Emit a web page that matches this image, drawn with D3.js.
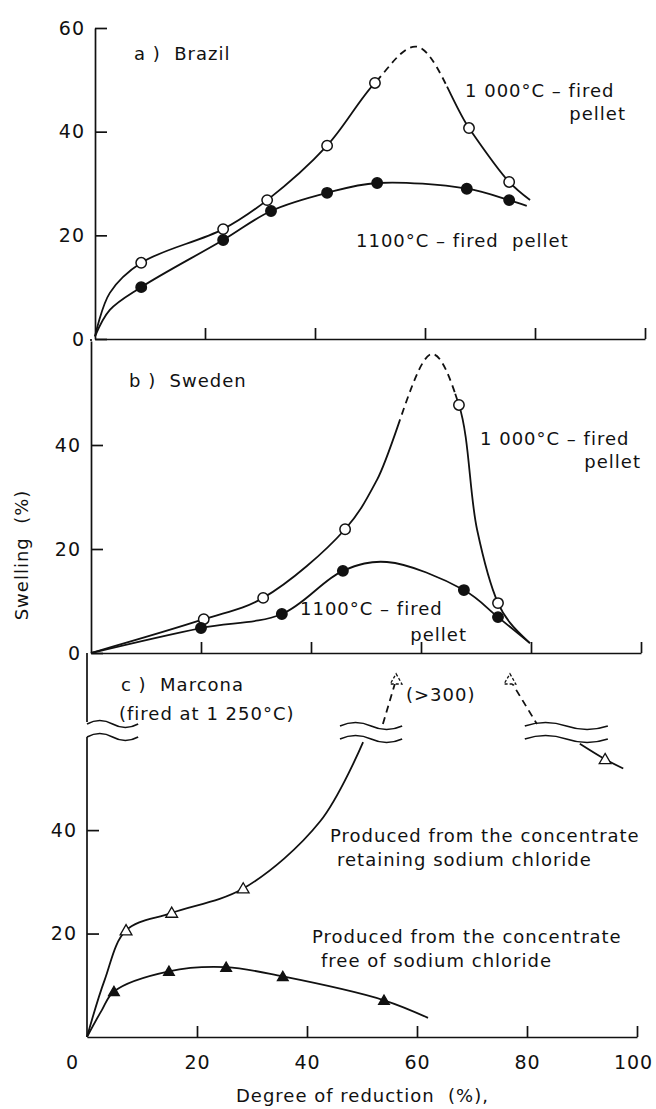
<!DOCTYPE html>
<html>
<head>
<meta charset="utf-8">
<script src="https://cdn.jsdelivr.net/npm/d3@7"></script>
<style>
  body { margin: 0; background: #fff; }
  text { font-family: "DejaVu Sans", sans-serif; fill: #111; white-space: pre; }
  .axis path, .axis line { stroke: #111; stroke-width: 1.7; }
  .axis text { font-size: 19px; letter-spacing: 1px; }
  .note { font-size: 18px; letter-spacing: 1px; }
</style>
</head>
<body>
<svg id="chart" width="656" height="1109"></svg>
<script>
// tick values
var xTicks = [0, 20, 40, 60, 80, 100];
var yTicksA = [0, 20, 40, 60];
var yTicksB = [0, 20, 40];
var yTicksC = [20, 40];

// a) Brazil  -- [degree of reduction %, swelling %]
var brazil1000 = [[8.4, 14.7], [23.3, 21.2], [31.3, 26.8], [42.2, 37.3], [50.9, 49.4], [68, 40.7], [75.3, 30.3]];
var brazil1000Line = [[0, 0.5], [2.7, 8.9], [58.5, 56.4], [79.1, 26.8]];
var brazil1000Dash = [52, 64];
var brazil1100 = [[8.4, 10.0], [23.3, 19.1], [32, 24.7], [42.2, 28.2], [51.3, 30.1], [67.6, 29], [75.3, 26.8]];
var brazil1100Line = [[0, 0.5], [2.7, 5.6], [78.5, 25.7]];

// b) Sweden
var sweden1000 = [[20.5, 6.5], [31.3, 10.6], [46.2, 23.8], [66.9, 47.7], [74, 9.6]];
var sweden1000Line = [[0, 0], [52, 33.3], [62, 57.5], [70.2, 23.7], [76.2, 5.8], [79.8, 1.9]];
var sweden1000Dash = [56.2, 66.2];
var sweden1100 = [[20, 4.8], [34.7, 7.5], [45.8, 15.8], [67.8, 12.1], [74, 6.9]];
var sweden1100Line = [[0, 0], [53.8, 17.5], [79.8, 1.9]];

// c) Marcona
var marconaNaCl = [[7.1, 20.6], [15.4, 24], [28.4, 28.7]];
var marconaNaClLine = [[0, 0], [3.2, 11], [42.4, 41.7], [50.2, 57]];
var marconaOver = [[56.2, 300], [76.9, 300]];
var marconaOverLeft = [[53.8, 250], [56.2, 300]];
var marconaOverRight = [[76.9, 300], [81.8, 250]];
var marconaTail = [[94.2, 53.7]];
var marconaTailLine = [[89.6, 56.7], [97.5, 51.9]];
var marconaFree = [[4.9, 8.8], [14.9, 12.7], [25.3, 13.5], [35.6, 11.7], [54, 7.1]];
var marconaFreeLine = [[0, 0], [2.7, 5.2], [62, 3.7]];
var marconaBreaks = [[46, 57.3], [79.6, 94.7]];

var svg = d3.select('#chart');
svg.append('rect').attr('width', 656).attr('height', 1109).attr('fill', '#fff');

var ink = '#111';

function merged(a, b) {
  return a.concat(b).sort(function (p, q) { return p[0] - q[0]; });
}

var curve = d3.curveCatmullRom.alpha(0.5);

function drawLine(g, x, y, pts, dash) {
  var line = d3.line()
    .x(function (d) { return x(d[0]); })
    .y(function (d) { return y(d[1]); })
    .curve(curve);
  var p = g.append('path')
    .datum(pts)
    .attr('d', line)
    .attr('fill', 'none')
    .attr('stroke', ink)
    .attr('stroke-width', 1.8);
  if (dash === 'all') {
    p.attr('stroke-dasharray', '7,5');
  } else if (dash) {
    p.attr('stroke-dasharray', dashPattern(p.node(), x(dash[0]), x(dash[1])));
  }
  return p;
}

// solid up to the first x, dashes up to the second x, solid after
function dashPattern(node, px0, px1) {
  var total = node.getTotalLength();
  function lenAt(px) {
    var lo = 0, hi = total;
    for (var i = 0; i < 40; i++) {
      var m = (lo + hi) / 2;
      if (node.getPointAtLength(m).x < px) lo = m; else hi = m;
    }
    return lo;
  }
  var l0 = lenAt(px0), l1 = lenAt(px1);
  var arr = [l0], pos = l0, gap = true;
  while (pos < l1) {
    var seg = gap ? 5 : 7;
    if (pos + seg > l1) seg = l1 - pos;
    arr.push(seg);
    pos += seg;
    gap = !gap;
  }
  if (gap) arr.push(0); // last piece was a dash: add an empty gap
  arr.push(total, 0);
  return arr.join(',');
}

function circles(g, x, y, pts, open) {
  g.selectAll(null).data(pts).enter().append('circle')
    .attr('cx', function (d) { return x(d[0]); })
    .attr('cy', function (d) { return y(d[1]); })
    .attr('r', 5.2)
    .attr('fill', open ? '#fff' : ink)
    .attr('stroke', ink)
    .attr('stroke-width', 1.5);
}

function triangles(g, x, y, pts, open, dashed) {
  g.selectAll(null).data(pts).enter().append('path')
    .attr('d', d3.symbol().type(d3.symbolTriangle).size(open ? 60 : 50))
    .attr('transform', function (d) { return 'translate(' + x(d[0]) + ',' + (y(d[1]) + 1) + ')'; })
    .attr('fill', open ? '#fff' : ink)
    .attr('stroke', ink)
    .attr('stroke-width', 1.3)
    .attr('stroke-dasharray', dashed ? '3,2' : null);
}

// two wavy strokes marking a broken scale
function breakMark(g, px0, px1, py) {
  var w = px1 - px0;
  [py, py - 13].forEach(function (yy) {
    g.append('path')
      .attr('d', 'M' + px0 + ',' + yy + ' Q' + (px0 + w / 4) + ',' + (yy - 7) + ' ' + (px0 + w / 2) + ',' + yy +
        ' T' + px1 + ',' + yy)
      .attr('fill', 'none')
      .attr('stroke', ink)
      .attr('stroke-width', 1.6);
  });
}

function note(txt, px, py, anchor) {
  svg.append('text')
    .attr('class', 'note')
    .attr('x', px)
    .attr('y', py)
    .attr('text-anchor', anchor || 'start')
    .text(txt);
}

function xAxis(g, x, y0, labels) {
  var ax = d3.axisBottom(x)
    .tickValues(labels ? xTicks : xTicks.slice(1))
    .tickSizeInner(-11)
    .tickSizeOuter(0)
    .tickPadding(19)
    .tickFormat(labels ? d3.format('d') : '');
  var a = g.append('g').attr('class', 'axis')
    .attr('transform', 'translate(0,' + y0 + ')')
    .call(ax);
  if (labels) {
    var t0 = a.selectAll('.tick').filter(function (d) { return d === 0; });
    t0.select('text').attr('x', -15);
    t0.select('line').remove();
    a.selectAll('.tick').filter(function (d) { return d === 100; })
      .select('text').attr('x', -4);
  }
  return a;
}

// ---------- panel a: Brazil ----------
var xA = d3.scaleLinear().domain([0, 100]).range([95, 645]);
var yA = d3.scaleLinear().domain([0, 60]).range([339, 28]);
var gA = svg.append('g');
xAxis(gA, xA, yA(0), false);
gA.append('g').attr('class', 'axis')
  .attr('transform', 'translate(' + xA(0) + ',0)')
  .call(d3.axisLeft(yA).tickValues(yTicksA).tickSizeInner(-12).tickSizeOuter(0).tickPadding(10));
drawLine(gA, xA, yA, merged(brazil1000, brazil1000Line), brazil1000Dash);
drawLine(gA, xA, yA, merged(brazil1100, brazil1100Line));
circles(gA, xA, yA, brazil1000, true);
circles(gA, xA, yA, brazil1100, false);

// ---------- panel b: Sweden ----------
var xB = d3.scaleLinear().domain([0, 100]).range([91, 641]);
var yB = d3.scaleLinear().domain([0, 60]).range([653, 341]);
var gB = svg.append('g');
xAxis(gB, xB, yB(0), false);
gB.append('g').attr('class', 'axis')
  .attr('transform', 'translate(' + xB(0) + ',0)')
  .call(d3.axisLeft(yB).tickValues(yTicksB).tickSizeInner(-12).tickSizeOuter(0).tickPadding(10));
gB.append('line')
  .attr('x1', xB(0)).attr('x2', xB(0)).attr('y1', yB(60)).attr('y2', 339)
  .attr('stroke', ink).attr('stroke-width', 1.7);
drawLine(gB, xB, yB, merged(sweden1000, sweden1000Line), sweden1000Dash);
drawLine(gB, xB, yB, merged(sweden1100, sweden1100Line));
circles(gB, xB, yB, sweden1000, true);
circles(gB, xB, yB, sweden1100, false);

// ---------- panel c: Marcona (broken scale) ----------
var xC = d3.scaleLinear().domain([0, 100]).range([87, 637]);
var yC = d3.scaleLinear().domain([0, 58, 250, 330]).range([1037, 737, 724, 653]);
var gC = svg.append('g');
xAxis(gC, xC, yC(0), true);
var yAxC = gC.append('g').attr('class', 'axis')
  .attr('transform', 'translate(' + xC(0) + ',0)')
  .call(d3.axisLeft(yC).tickValues(yTicksC).tickSizeInner(-12).tickSizeOuter(0).tickPadding(10));
yAxC.select('.domain').remove();
gC.append('line')
  .attr('x1', xC(0)).attr('x2', xC(0)).attr('y1', yC(0)).attr('y2', yC(58))
  .attr('stroke', ink).attr('stroke-width', 1.7);
gC.append('line')
  .attr('x1', xC(0)).attr('x2', xC(0)).attr('y1', yC(58) - 15).attr('y2', yC(330))
  .attr('stroke', ink).attr('stroke-width', 1.7);
breakMark(gC, xC(0), xC(9.3), yC(58));

drawLine(gC, xC, yC, merged(marconaNaCl, marconaNaClLine));
drawLine(gC, xC, yC, marconaOverLeft, 'all');
drawLine(gC, xC, yC, marconaOverRight, 'all');
drawLine(gC, xC, yC, merged(marconaTail, marconaTailLine));
drawLine(gC, xC, yC, merged(marconaFree, marconaFreeLine));
marconaBreaks.forEach(function (b) {
  breakMark(gC, xC(b[0]), xC(b[1]), yC(57.6));
});
triangles(gC, xC, yC, marconaNaCl, true, false);
triangles(gC, xC, yC, marconaTail, true, false);
triangles(gC, xC, yC, marconaOver, true, true);
triangles(gC, xC, yC, marconaFree, false, false);

// ---------- annotations ----------
note('a )  Brazil', 134, 60);
note('1 000°C – fired', 465, 97);
note('pellet', 626, 120, 'end');
note('1100°C – fired  pellet', 356, 247);

note('b )  Sweden', 129, 387);
note('1 000°C – fired', 480, 445);
note('pellet', 641, 468, 'end');
note('1100°C – fired', 300, 615);
note('pellet', 467, 641, 'end');

note('c )  Marcona', 121, 691);
note('(fired at 1 250°C)', 119, 720);
note('(>300)', 406, 701);
note('Produced from the concentrate', 330, 842);
note('retaining sodium chloride', 337, 866);
note('Produced from the concentrate', 312, 943);
note('free of sodium chloride', 321, 967);

svg.append('text')
  .attr('class', 'note')
  .attr('text-anchor', 'middle')
  .attr('transform', 'translate(28,555) rotate(-90)')
  .text('Swelling  (%)');
svg.append('text')
  .attr('class', 'note')
  .attr('x', 236)
  .attr('y', 1102)
  .text('Degree of reduction  (%),');
</script>
</body>
</html>
